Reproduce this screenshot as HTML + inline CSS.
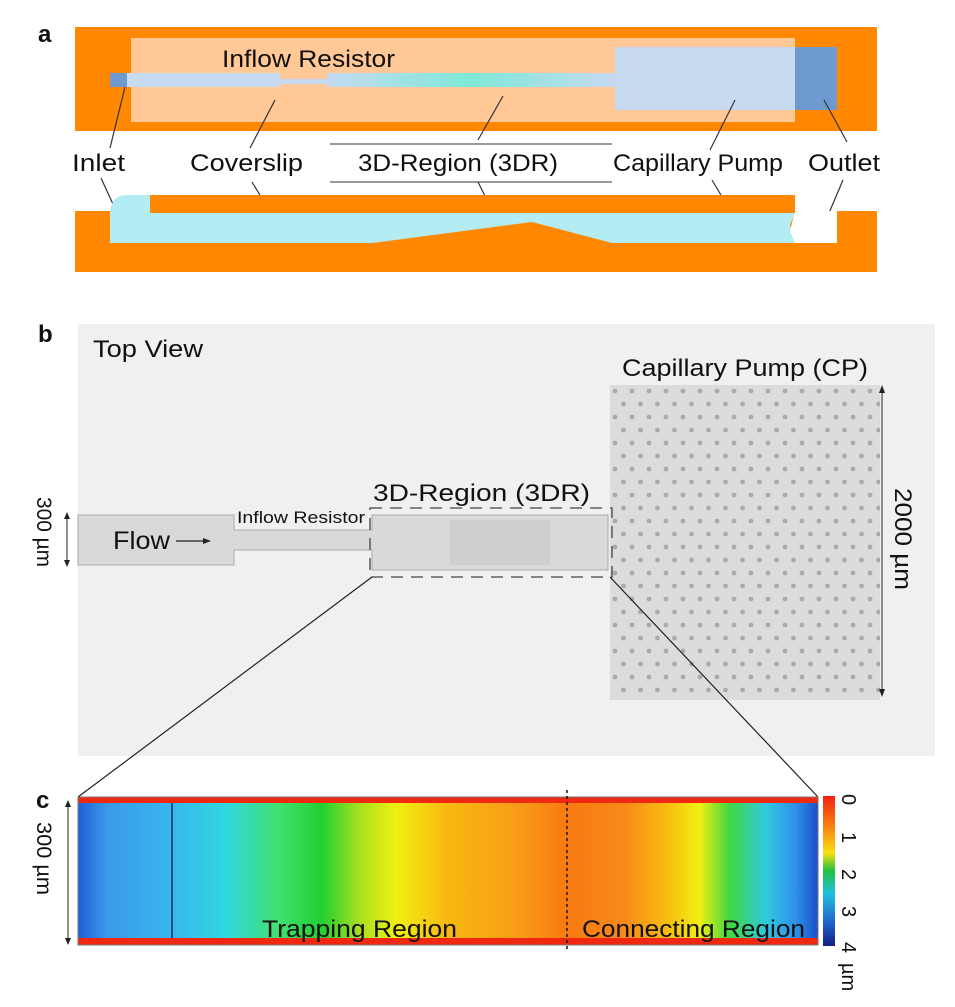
<!DOCTYPE html>
<html><head><meta charset="utf-8"><style>
html,body{margin:0;padding:0;background:#fff}
svg{display:block}
text{font-family:"Liberation Sans",sans-serif;fill:#111}
</style></head><body>
<svg width="955" height="1007" viewBox="0 0 955 1007" xmlns="http://www.w3.org/2000/svg">
<defs>
<linearGradient id="ch" x1="0" x2="1" y1="0" y2="0">
<stop offset="0" stop-color="#c6daf0"/><stop offset="0.5" stop-color="#7fe8da"/><stop offset="1" stop-color="#c6daf0"/>
</linearGradient>
<pattern id="dots" x="610" y="385" width="17" height="26" patternUnits="userSpaceOnUse">
<circle cx="5" cy="6" r="2.4" fill="#aaa"/><circle cx="13.5" cy="19" r="2.4" fill="#aaa"/>
</pattern>
<linearGradient id="heat" x1="0" x2="1" y1="0" y2="0">
<stop offset="0" stop-color="#1f5fd8"/>
<stop offset="0.04" stop-color="#3a9ae8"/>
<stop offset="0.13" stop-color="#38b8ee"/>
<stop offset="0.2" stop-color="#30d8e0"/>
<stop offset="0.27" stop-color="#40e070"/>
<stop offset="0.33" stop-color="#22d030"/>
<stop offset="0.38" stop-color="#a8e020"/>
<stop offset="0.43" stop-color="#f0f010"/>
<stop offset="0.5" stop-color="#f8b810"/>
<stop offset="0.6" stop-color="#f89a18"/>
<stop offset="0.66" stop-color="#f87a10"/>
<stop offset="0.74" stop-color="#f88a18"/>
<stop offset="0.8" stop-color="#f8c010"/>
<stop offset="0.84" stop-color="#f0f010"/>
<stop offset="0.88" stop-color="#40d840"/>
<stop offset="0.93" stop-color="#30c8e0"/>
<stop offset="0.97" stop-color="#3090e8"/>
<stop offset="1" stop-color="#1a50c8"/>
</linearGradient>
<linearGradient id="cbar" x1="0" x2="0" y1="0" y2="1">
<stop offset="0" stop-color="#f82010"/>
<stop offset="0.2" stop-color="#f88010"/>
<stop offset="0.38" stop-color="#f8e010"/>
<stop offset="0.5" stop-color="#20c040"/>
<stop offset="0.65" stop-color="#20c0e0"/>
<stop offset="0.85" stop-color="#2060d0"/>
<stop offset="1" stop-color="#102080"/>
</linearGradient>
</defs>

<!-- Panel a -->
<text x="38" y="42" font-size="24" font-weight="bold">a</text>
<rect x="75" y="27" width="802" height="104" fill="#ff8800"/>
<rect x="131" y="38" width="664" height="84" fill="#ffc896"/>
<rect x="110" y="73" width="17" height="14" fill="#6e9ad0"/>
<rect x="127" y="73" width="153" height="14" fill="#c6daf0"/>
<rect x="280" y="79" width="47" height="5" fill="#c6daf0"/>
<rect x="327" y="73" width="288" height="14" fill="url(#ch)"/>
<rect x="615" y="47" width="180" height="63" fill="#c6daf0"/>
<rect x="795" y="47" width="42" height="63" fill="#6e9ad0"/>
<text x="222" y="67" font-size="24" textLength="173" lengthAdjust="spacingAndGlyphs">Inflow Resistor</text>

<line x1="330" y1="144" x2="612" y2="144" stroke="#999" stroke-width="2"/>
<line x1="330" y1="182" x2="612" y2="182" stroke="#999" stroke-width="2"/>
<g font-size="24">
<text x="72" y="171" textLength="53" lengthAdjust="spacingAndGlyphs">Inlet</text>
<text x="190" y="171" textLength="113" lengthAdjust="spacingAndGlyphs">Coverslip</text>
<text x="358" y="171" textLength="200" lengthAdjust="spacingAndGlyphs">3D-Region (3DR)</text>
<text x="613" y="171" textLength="170" lengthAdjust="spacingAndGlyphs">Capillary Pump</text>
<text x="808" y="171" textLength="72" lengthAdjust="spacingAndGlyphs">Outlet</text>
</g>
<g stroke="#333" stroke-width="1.2">
<line x1="110" y1="148" x2="125" y2="87"/>
<line x1="101" y1="178" x2="118" y2="215"/>
<line x1="250" y1="148" x2="275" y2="100"/>
<line x1="252" y1="182" x2="266" y2="205"/>
<line x1="478" y1="140" x2="503" y2="96"/>
<line x1="478" y1="182" x2="498" y2="222"/>
<line x1="710" y1="150" x2="735" y2="100"/>
<line x1="712" y1="180" x2="737" y2="222"/>
<line x1="847" y1="142" x2="824" y2="100"/>
<line x1="843" y1="180" x2="826" y2="220"/>
</g>
<rect x="75" y="211" width="802" height="61" fill="#ff8800"/>
<path d="M110 211 Q112 196 125 195 L150 195 L150 213 L795 213 L790 225 L795 243 L612 243 L532 222 L372 243 L110 243 Z" fill="#b4ecf4"/>
<path d="M795 211 L837 211 L837 243 L795 243 L790 231 Z" fill="#fff"/>
<rect x="150" y="195" width="645" height="18" fill="#ff8800"/>

<!-- Panel b -->
<text x="38" y="342" font-size="24" font-weight="bold">b</text>
<rect x="78" y="324" width="857" height="432" fill="#f0f0f0"/>
<text x="93" y="357" font-size="24" textLength="110" lengthAdjust="spacingAndGlyphs">Top View</text>
<path d="M78 515 L234 515 L234 530 L372 530 L372 515 L608 515 L608 570 L372 570 L372 550 L234 550 L234 565 L78 565 Z" fill="#d9d9d9" stroke="#aaa" stroke-width="1"/>
<rect x="450" y="520" width="100" height="45" fill="#cfcfcf"/>
<rect x="610" y="385" width="270" height="315" fill="#dcdcdc"/>
<rect x="610" y="385" width="270" height="315" fill="url(#dots)"/>
<rect x="370" y="508" width="242" height="69" fill="none" stroke="#444" stroke-width="1.3" stroke-dasharray="12,8"/>
<text x="373" y="501" font-size="24" textLength="217" lengthAdjust="spacingAndGlyphs">3D-Region (3DR)</text>
<text x="237" y="523" font-size="17" textLength="128" lengthAdjust="spacingAndGlyphs">Inflow Resistor</text>
<text x="113" y="549" font-size="25" textLength="57" lengthAdjust="spacingAndGlyphs">Flow</text>
<line x1="176" y1="541" x2="204" y2="541" stroke="#222" stroke-width="1.2"/>
<path d="M211 541 L203 538 L203 544 Z" fill="#222"/>
<text x="622" y="376" font-size="24" textLength="246" lengthAdjust="spacingAndGlyphs">Capillary Pump (CP)</text>
<line x1="882" y1="390" x2="882" y2="692" stroke="#222" stroke-width="1"/>
<path d="M882 385 L879 393 L885 393 Z M882 697 L879 689 L885 689 Z" fill="#222"/>
<text transform="translate(895,488) rotate(90)" font-size="24" textLength="102" lengthAdjust="spacingAndGlyphs">2000 µm</text>
<line x1="67" y1="517" x2="67" y2="562" stroke="#222" stroke-width="1"/>
<path d="M67 512 L64 519 L70 519 Z M67 567 L64 560 L70 560 Z" fill="#222"/>
<text transform="translate(37,497) rotate(90)" font-size="21" textLength="70" lengthAdjust="spacingAndGlyphs">300 µm</text>
<line x1="372" y1="577" x2="78" y2="797" stroke="#222" stroke-width="1.2"/>
<line x1="610" y1="577" x2="818" y2="797" stroke="#222" stroke-width="1.2"/>

<!-- Panel c -->
<text x="36" y="808" font-size="24" font-weight="bold">c</text>
<rect x="78" y="797" width="740" height="148" fill="url(#heat)"/>
<rect x="78" y="797" width="740" height="6" fill="#f02810"/>
<rect x="78" y="938" width="740" height="7" fill="#f02810"/>
<rect x="78" y="797" width="740" height="148" fill="none" stroke="#777" stroke-width="1"/>
<line x1="172" y1="803" x2="172" y2="938" stroke="#1a2a60" stroke-width="1.5"/>
<line x1="567" y1="790" x2="567" y2="952" stroke="#111" stroke-width="1.5" stroke-dasharray="3,3"/>
<text x="262" y="937" font-size="24" textLength="195" lengthAdjust="spacingAndGlyphs">Trapping Region</text>
<text x="582" y="937" font-size="24" textLength="223" lengthAdjust="spacingAndGlyphs">Connecting Region</text>
<line x1="68" y1="805" x2="68" y2="940" stroke="#222" stroke-width="1"/>
<path d="M68 800 L65 807 L71 807 Z M68 945 L65 938 L71 938 Z" fill="#222"/>
<text transform="translate(37,822) rotate(90)" font-size="21" textLength="73" lengthAdjust="spacingAndGlyphs">300 µm</text>
<rect x="823" y="796" width="12" height="150" fill="url(#cbar)"/>
<g font-size="20">
<text transform="translate(842,794) rotate(90)">0</text>
<text transform="translate(842,832) rotate(90)">1</text>
<text transform="translate(842,869) rotate(90)">2</text>
<text transform="translate(842,906) rotate(90)">3</text>
<text transform="translate(842,942) rotate(90)">4</text>
<text transform="translate(842,963) rotate(90)">µm</text>
</g>
</svg>
</body></html>
